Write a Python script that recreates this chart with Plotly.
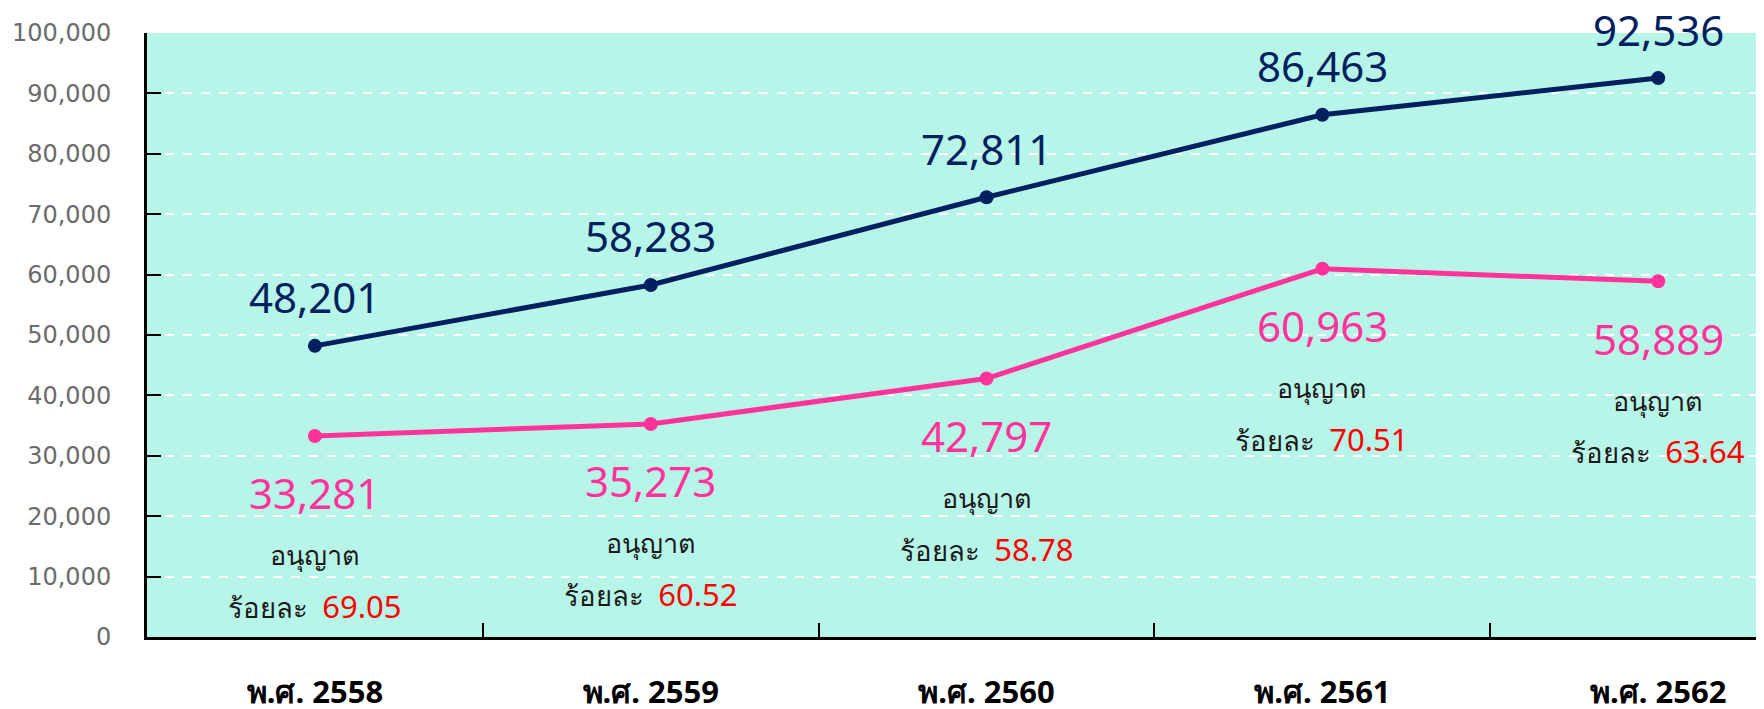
import plotly.graph_objects as go

years = ["พ.ศ. 2558", "พ.ศ. 2559", "พ.ศ. 2560", "พ.ศ. 2561", "พ.ศ. 2562"]
total = [48201, 58283, 72811, 86463, 92536]
approved = [33281, 35273, 42797, 60963, 58889]
percent = ["69.05", "60.52", "58.78", "70.51", "63.64"]
y_ticks = list(range(0, 100001, 10000))

NAVY = "#002060"
PINK = "#FF3399"
RED = "#FF0000"
BG = "#B8F5E9"
FONT = "Noto Sans, DejaVu Sans, sans-serif"

xs = list(range(len(years)))
fig = go.Figure()
fig.add_trace(go.Scatter(x=xs, y=total, mode="lines+markers",
                         line=dict(color=NAVY, width=5),
                         marker=dict(color=NAVY, size=14), cliponaxis=False))
fig.add_trace(go.Scatter(x=xs, y=approved, mode="lines+markers",
                         line=dict(color=PINK, width=5),
                         marker=dict(color=PINK, size=14), cliponaxis=False))
# invisible trace for boundary tick axis
fig.add_trace(go.Scatter(x=[xs[0]], y=[0], xaxis="x2", mode="markers",
                         marker=dict(opacity=0), hoverinfo="skip"))

ann = []
for i in xs:
    ann.append(dict(x=i, y=total[i], text=f"{total[i]:,}", showarrow=False,
                    yshift=49, font=dict(family=FONT, size=42, color=NAVY)))
    ann.append(dict(x=i, y=approved[i], text=f"{approved[i]:,}", showarrow=False,
                    yshift=-57, font=dict(family=FONT, size=42, color=PINK)))
    ann.append(dict(x=i, y=approved[i], text="อนุญาต", showarrow=False,
                    yshift=-119, font=dict(family=FONT, size=27, color="#1a1a1a")))
    ann.append(dict(x=i, y=approved[i],
                    text=f"ร้อยละ  <span style='color:{RED};font-size:31px'>{percent[i]}</span>",
                    showarrow=False, yshift=-170,
                    font=dict(family=FONT, size=27.5, color="#1a1a1a")))

fig.update_layout(
    width=1756, height=701,
    margin=dict(l=139, r=0, t=25, b=72),
    paper_bgcolor="white", plot_bgcolor=BG,
    showlegend=False,
    annotations=ann,
    xaxis=dict(range=[-0.5, 4.315], tickvals=xs, ticktext=years,
               ticks="", showline=True, linecolor="black", linewidth=3,
               showgrid=False, zeroline=False, ticklabelstandoff=26,
               automargin=False,
               tickfont=dict(family=FONT, size=31, color="black", weight="bold")),
    xaxis2=dict(overlaying="x", anchor="y", side="bottom", matches="x",
                range=[-0.5, 4.315], tickvals=[0.5, 1.5, 2.5, 3.5],
                ticks="inside", ticklen=14, tickwidth=1.5, tickcolor="black",
                automargin=False,
                showticklabels=False, showline=False, showgrid=False, zeroline=False),
    yaxis=dict(range=[0, 100000], tickvals=y_ticks, tickformat=",",
               ticks="inside", ticklen=14, tickwidth=2, tickcolor="black",
               showline=True, linecolor="black", linewidth=3,
               showgrid=True, gridcolor="white", griddash="dash", gridwidth=1.5,
               zeroline=False, ticklabelstandoff=28, automargin=False,
               tickfont=dict(family="DejaVu Sans", size=24, color="#6b6b6b")),
)

fig.write_html("out.html")
